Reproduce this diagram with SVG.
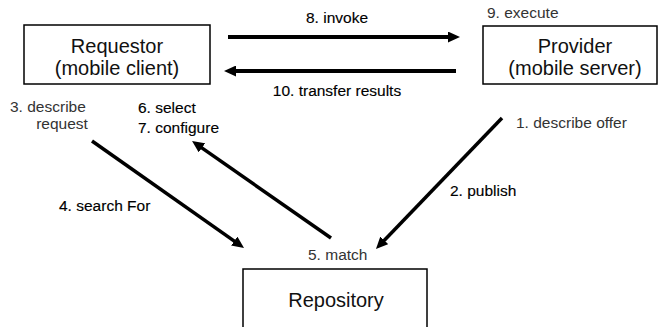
<svg xmlns="http://www.w3.org/2000/svg" width="658" height="327" viewBox="0 0 658 327">
<defs>
<style>
text{font-family:"Liberation Sans",Arial,sans-serif;fill:#000}
.node{font-size:20px;fill:#111}
.lbl{font-size:15.5px;stroke:#000;stroke-width:0.15}
.lt{font-size:15.5px;fill:#333}
.box{fill:#fff;stroke:#000;stroke-width:1.5}
.c{stroke:#000;stroke-width:4;fill:none;marker-end:url(#ah)}
.d{stroke:#000;stroke-width:3.5;fill:none;marker-end:url(#ah)}
</style>
<marker id="ah" markerUnits="userSpaceOnUse" markerWidth="12" markerHeight="11" refX="4" refY="5.5" orient="auto">
<path d="M0,0 L12,5.5 L0,11 z" fill="#000"/>
</marker>
</defs>
<rect width="658" height="327" fill="#fff"/>
<g id="requestor">
<rect class="box" x="24" y="25" width="186" height="59"/>
<text class="node" x="117" y="53" text-anchor="middle">Requestor</text>
<text class="node" x="117" y="75" text-anchor="middle">(mobile client)</text>
</g>
<g id="provider">
<rect class="box" x="483" y="26" width="174" height="58"/>
<text class="node" x="575" y="53" text-anchor="middle">Provider</text>
<text class="node" x="575" y="75" text-anchor="middle">(mobile server)</text>
<text class="lt" x="487" y="18">9. execute</text>
</g>
<g id="repository">
<rect class="box" x="243" y="269" width="184" height="70"/>
<text class="node" x="336" y="307" text-anchor="middle">Repository</text>
<text class="lt" x="308" y="260">5. match</text>
</g>
<g id="connectors">
<line class="c" x1="228" y1="37" x2="452" y2="37"/>
<line class="c" x1="456" y1="71" x2="232" y2="71"/>
<line class="d" x1="92" y1="141" x2="237.5" y2="243.4"/>
<line class="d" x1="331" y1="238" x2="198.6" y2="145.6"/>
<line class="d" x1="502" y1="118" x2="381.5" y2="243.2"/>
<text class="lbl" x="337" y="23" text-anchor="middle">8. invoke</text>
<text class="lbl" x="337" y="96" text-anchor="middle">10. transfer results</text>
<text class="lt" x="10" y="112">3. describe</text>
<text class="lt" x="62" y="129" text-anchor="middle">request</text>
<text class="lbl" x="138" y="113">6. select</text>
<text class="lbl" x="138" y="133">7. configure</text>
<text class="lt" x="516" y="128">1. describe offer</text>
<text class="lbl" x="450" y="196">2. publish</text>
<text class="lbl" x="59" y="211">4. search For</text>
</g>
</svg>
